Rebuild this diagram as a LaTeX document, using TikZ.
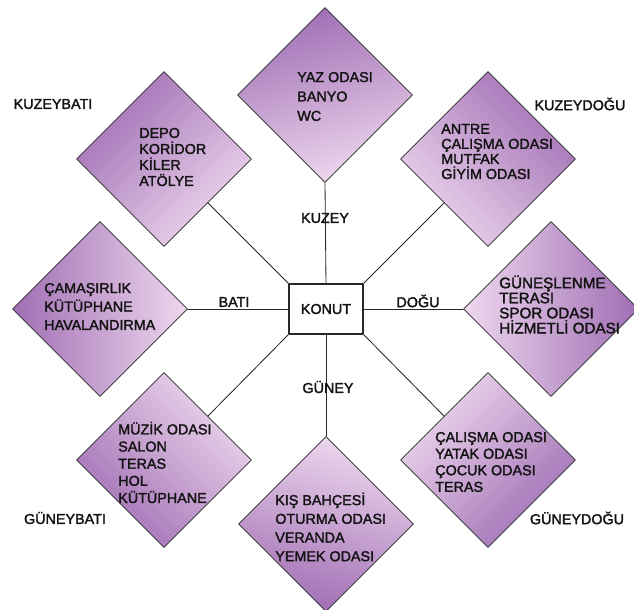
\documentclass[tikz,border=0pt]{standalone}
\usepackage{fontspec}
\setmainfont{Liberation Sans}[FakeBold=2]
\usetikzlibrary{shapes.geometric}
\definecolor{roomdark}{RGB}{160,110,180}
\definecolor{roomlight}{RGB}{238,216,238}
\definecolor{lineclr}{RGB}{40,40,40}
\definecolor{textclr}{RGB}{20,20,20}
\begin{document}
\begin{tikzpicture}[x=0.025cm,y=-0.025cm,line cap=round,line join=round,
  zone/.style={diamond,aspect=1,draw=lineclr,line width=0.55pt,
    minimum width=4.375cm,minimum height=4.375cm,inner sep=0pt,
    top color=roomdark,bottom color=roomlight,shading angle=#1},
  rooms/.style={anchor=west,align=left,inner sep=0pt,text=textclr,
    font=\fontsize{10.2}{#1}\selectfont},
  dir/.style={inner sep=1pt,text=textclr,font=\fontsize{10.2}{12}\selectfont},
  link/.style={draw=lineclr,line width=0.6pt}]
  \useasboundingbox[fill=white] (0,0) rectangle (634,610);
  % centre
  \node[draw=lineclr,line width=0.8pt,fill=white,minimum width=1.85cm,
    minimum height=1.25cm,inner sep=0pt,text=textclr,
    font=\fontsize{10.2}{12}\selectfont] (konut) at (326,309) {KONUT};
  % the eight zones
  \node[zone=15]   (kuz)  at (325,95)  {};
  \node[zone=45]   (kuzb) at (164,159) {};
  \node[zone=-45]  (kuzd) at (488,159) {};
  \node[zone=90]   (bat)  at (100,309) {};
  \node[zone=-90]  (dog)  at (551,309) {};
  \node[zone=135]  (guzb) at (164,460) {};
  \node[zone=165]  (guz)  at (326,524) {};
  \node[zone=-135] (guzd) at (488,460) {};
  % links to the centre
  \draw[link] (kuz.south) -- (konut.north);
  \draw[link] (kuzb.south east) -- (konut.north west);
  \draw[link] (kuzd.south west) -- (konut.north east);
  \draw[link] (bat.east) -- (konut.west);
  \draw[link] (dog.west) -- (konut.east);
  \draw[link] (guzb.north east) -- (konut.south west);
  \draw[link] (guz.north) -- (konut.south);
  \draw[link] (guzd.north west) -- (konut.south east);
  % rooms
  \node[rooms=13.8pt] (tkuz) at (297,96.5) {YAZ ODASI\\BANYO\\WC};
  \node[rooms=11.4pt] (tkuzb) at (139,157) {DEPO\\KOR\.IDOR\\K\.ILER\\AT\"OLYE};
  \node[rooms=10.7pt] (tkuzd) at (441,151.5) {ANTRE\\ÇALIŞMA ODASI\\MUTFAK\\G\.IY\.IM ODASI};
  \node[rooms=13.1pt] (tbat) at (44,306.5) {ÇAMAŞIRLIK\\KÜTÜPHANE\\HAVALANDIRMA};
  \node[rooms=10.7pt,font=\fontsize{10.8}{10.7}\selectfont] (tdog) at (499,304.5)
    {GÜNEŞLENME\\TERASI\\SPOR ODASI\\H\.IZMETL\.I ODASI};
  \node[rooms=12.2pt] (tguzb) at (118,462.5) {MÜZ\.IK ODASI\\SALON\\TERAS\\HOL\\KÜTÜPHANE};
  \node[rooms=13.3pt] (tguz) at (275,527) {KIŞ BAHÇES\.I\\OTURMA ODASI\\VERANDA\\YEMEK ODASI};
  \node[rooms=11.8pt] (tguzd) at (435,462) {ÇALIŞMA ODASI\\YATAK ODASI\\ÇOCUK ODASI\\TERAS};
  % directions
  \node[dir] (lkuz)  at (325,218) {KUZEY};
  \node[dir] (lguz)  at (328,387) {GÜNEY};
  \node[dir] (lbat)  at (234,302) {BATI};
  \node[dir] (ldog)  at (418,301) {DOĞU};
  \node[dir] (lkuzb) at (53,104)  {KUZEYBATI};
  \node[dir] (lkuzd) at (580,104) {KUZEYDOĞU};
  \node[dir] (lguzb) at (65,518)  {GÜNEYBATI};
  \node[dir] (lguzd) at (577,518) {GÜNEYDOĞU};
\end{tikzpicture}
\end{document}
